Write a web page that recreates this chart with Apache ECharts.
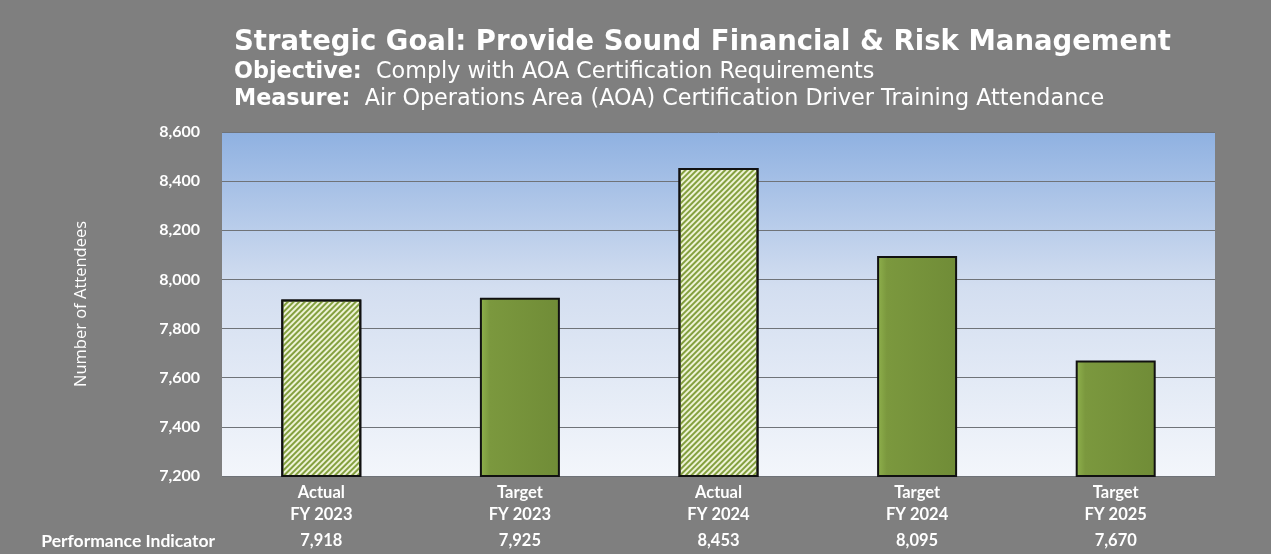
<!DOCTYPE html>
<html>
<head>
<meta charset="utf-8">
<script src="https://cdn.jsdelivr.net/npm/echarts@6/dist/echarts.min.js"></script>
<style>
  html, body { margin: 0; padding: 0; background: #7f7f7f; }
  #chart { width: 1271px; height: 554px; }
</style>
</head>
<body>
<div id="chart"></div>
<script>
// Performance indicator data
const categories = ['Actual\nFY 2023', 'Target\nFY 2023', 'Actual\nFY 2024', 'Target\nFY 2024', 'Target\nFY 2025'];
const values = [7918, 7925, 8453, 8095, 7670];
const isActual = [true, false, true, false, false];
const yTicks = { min: 7200, max: 8600, step: 200 };

const titleText = 'Strategic Goal: Provide Sound Financial & Risk Management';
const objectiveText = 'Comply with AOA Certification Requirements';
const measureText = 'Air Operations Area (AOA) Certification Driver Training Attendance';

const fmt = v => v.toLocaleString('en-US');

const solidFill = {
  type: 'linear', x: 0, y: 0, x2: 1, y2: 0,
  colorStops: [
    { offset: 0, color: '#90b24d' },
    { offset: 0.12, color: '#7b983e' },
    { offset: 1, color: '#708c37' }
  ]
};

// fine diagonal hatching for actual results
const hatchDecal = {
  symbol: 'rect',
  symbolSize: 1,
  color: '#84a03f',
  dashArrayX: [1, 0],
  dashArrayY: [1.7, 1.2],
  rotation: -Math.PI / 4
};

const barData = values.map((v, i) => ({
  value: v,
  itemStyle: isActual[i]
    ? { color: '#eef3d6', decal: hatchDecal }
    : { color: solidFill }
}));

const labelFont = { color: '#ffffff', fontFamily: 'Lato', fontWeight: 'bold', fontSize: 16.5 };

const chart = echarts.init(document.getElementById('chart'));
chart.setOption({
  backgroundColor: '#7f7f7f',
  animation: false,
  title: {
    left: 229, top: 24,
    text: titleText,
    subtext: '{b|Objective:}  ' + objectiveText + '\n{b|Measure:}  ' + measureText,
    itemGap: 2,
    textStyle: { fontFamily: 'DejaVu Sans', fontWeight: 'bold', fontSize: 27.5, color: '#ffffff' },
    subtextStyle: {
      fontFamily: 'DejaVu Sans', fontSize: 22.3, color: '#ffffff', lineHeight: 27,
      rich: { b: { fontFamily: 'DejaVu Sans', fontWeight: 'bold', fontSize: 22.3, color: '#ffffff', lineHeight: 27 } }
    }
  },
  grid: {
    left: 222, right: 56, top: 132, bottom: 78,
    show: true,
    borderWidth: 0,
    backgroundColor: {
      type: 'linear', x: 0, y: 0, x2: 0, y2: 1,
      colorStops: [
        { offset: 0, color: '#8fb1e1' },
        { offset: 0.45, color: '#d3def0' },
        { offset: 1, color: '#f3f6fb' }
      ]
    }
  },
  xAxis: [
    {
      type: 'category',
      data: categories,
      axisLine: { show: false },
      axisTick: { show: false },
      axisLabel: Object.assign({ margin: 6, lineHeight: 22 }, labelFont)
    },
    {
      type: 'category',
      position: 'bottom',
      offset: 56,
      data: values.map(fmt),
      axisLine: { show: false },
      axisTick: { show: false },
      axisLabel: Object.assign({ margin: 0, verticalAlign: 'top' }, labelFont),
      name: 'Performance Indicator',
      nameLocation: 'start',
      nameGap: 7,
      nameTextStyle: {
        color: '#ffffff', fontFamily: 'Lato', fontWeight: 'bold', fontSize: 17.5,
        align: 'right', verticalAlign: 'top'
      }
    }
  ],
  yAxis: {
    type: 'value',
    min: yTicks.min, max: yTicks.max, interval: yTicks.step,
    name: 'Number of Attendees',
    nameLocation: 'middle',
    nameGap: 132,
    nameTextStyle: { color: '#ffffff', fontFamily: 'Open Sans', fontSize: 16.5 },
    axisLine: { show: false },
    axisTick: { show: false },
    axisLabel: Object.assign({ margin: 22, fontSize: 16, formatter: v => fmt(v) },
      { color: '#ffffff', fontFamily: 'Lato', fontWeight: 'bold' }),
    splitLine: { lineStyle: { color: '#6f7378', width: 1 } }
  },
  series: [{
    type: 'bar',
    xAxisIndex: 0,
    data: barData,
    barWidth: 80,
    itemStyle: { borderColor: '#111111', borderWidth: 2 }
  }]
});
</script>
</body>
</html>
